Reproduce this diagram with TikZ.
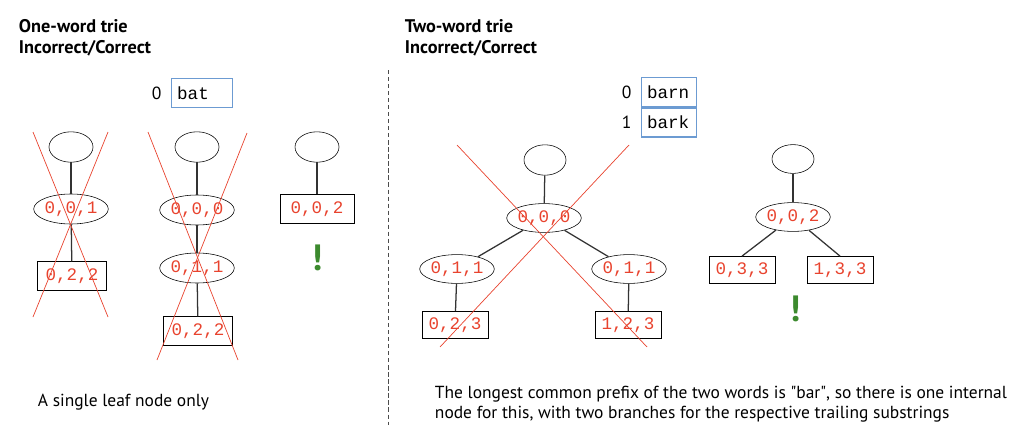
\documentclass[tikz,border=0pt]{standalone}
\usepackage{fontspec}
\setmainfont{PT Sans}
\setmonofont{Liberation Mono}
\usetikzlibrary{shapes.geometric}
\definecolor{lblred}{HTML}{E8432E}
\definecolor{boxblue}{HTML}{6C9BD2}
\definecolor{okgreen}{HTML}{3C8A2E}

\def\W{1024}
\def\H{434}

\begin{document}
\begin{tikzpicture}[x=0.025cm,y=-0.025cm]
    \tikzset{
      root/.style={draw,ellipse,minimum width=1.1cm,minimum height=0.76cm,inner sep=0pt},
      inner/.style={draw,ellipse,minimum width=1.82cm,minimum height=0.75cm,inner sep=0pt,
        text=lblred,font=\ttfamily\fontsize{12.5}{14}\selectfont},
      leaf/.style={draw,rectangle,minimum width=1.72cm,minimum height=0.72cm,inner sep=0pt,
        text=lblred,font=\ttfamily\fontsize{12.5}{14}\selectfont},
      word/.style={draw=boxblue,line width=1.2pt,rectangle,minimum height=0.72cm,inner ysep=0pt,
        inner xsep=4pt,align=left,font=\ttfamily\fontsize{12.5}{14}\selectfont},
      idx/.style={font=\fontsize{12.5}{14}\selectfont},
      cross/.style={draw=lblred,line width=0.5pt},
      bang/.style={text=okgreen,font=\bfseries\fontsize{26}{28}\selectfont},
      title/.style={anchor=base west,font=\bfseries\fontsize{13}{15}\selectfont},
      note/.style={anchor=base west,align=left,font=\fontsize{12.4}{14}\selectfont}
    }
    \useasboundingbox (0,0) rectangle (\W,\H);

    \node[title] (t1) at (14,32) {One-word trie};
    \node[title] (t1b) at (14,53) {Incorrect/Correct};
    \node[title] (t2) at (400,32) {Two-word trie};
    \node[title] (t2b) at (400,53) {Incorrect/Correct};

    \node[word,text width=1.24cm] (bat) at (202,93) {bat};
    \node[idx,left=3pt] at (bat.west) {0};

    \node[root] (r1) at (71,147) {};
    \node[inner] (n1) at (71,209) {0,0,1};
    \node[leaf] (l1) at (72,276) {0,2,2};
    \path[draw,black!80,line width=0.9pt] (r1) edge (n1) (n1) edge (l1);
    \draw[cross] (33,132) -- (108,317);
    \draw[cross] (108,132) -- (33,317);

    \node[root] (r2) at (197,147) {};
    \node[inner] (n2) at (197,210) {0,0,0};
    \node[inner] (n3) at (197,268) {0,1,1};
    \node[leaf] (l2) at (198,331) {0,2,2};
    \path[draw,black!80,line width=0.9pt] (r2) edge (n2) (n2) edge (n3) (n3) edge (l2);
    \draw[cross] (148,132) -- (238,360);
    \draw[cross] (247,133) -- (157,360);

    \node[root] (r3) at (317,147) {};
    \node[leaf,minimum width=1.85cm] (l3) at (317,209) {0,0,2};
    \path[draw,black!80,line width=0.9pt] (r3) edge (l3);
    \node[bang] (b1) at (317,258) {!};

    \draw[black!70,dashed,dash pattern=on 3pt off 2pt] (388,70) -- (388,425);

    \node[word,text width=1.1cm] (barn) at (669,92) {barn};
    \node[word,text width=1.1cm,anchor=north] (bark) at (barn.south) {bark};
    \node[idx,left=3pt] at (barn.west) {0};
    \node[idx,left=3pt] at (bark.west) {1};

    \node[root,minimum width=1.05cm] (r4) at (545,160) {};
    \node[inner,minimum width=1.72cm,minimum height=0.72cm] (n4) at (544,218) {0,0,0};
    \node[inner,minimum width=1.72cm,minimum height=0.72cm] (n5) at (457,269) {0,1,1};
    \node[inner,minimum width=1.72cm,minimum height=0.72cm] (n6) at (629,269) {0,1,1};
    \node[leaf,minimum width=1.65cm,minimum height=0.68cm] (l4) at (455,325) {0,2,3};
    \node[leaf,minimum width=1.65cm,minimum height=0.68cm] (l5) at (628,325) {1,2,3};
    \path[draw,black!80,line width=0.9pt] (r4) edge (n4) (n4) edge (n5) edge (n6)
      (n5) edge (l4) (n6) edge (l5);
    \draw[cross] (457,145) -- (647,347);
    \draw[cross] (629,145) -- (440,347);

    \node[root,minimum width=1.05cm,minimum height=0.72cm] (r5) at (793,159) {};
    \node[inner,minimum width=1.72cm,minimum height=0.72cm] (n7) at (793,217) {0,0,2};
    \node[leaf,minimum width=1.65cm,minimum height=0.68cm] (l6) at (742,270) {0,3,3};
    \node[leaf,minimum width=1.65cm,minimum height=0.68cm] (l7) at (840,270) {1,3,3};
    \path[draw,black!80,line width=0.9pt] (r5) edge (n7) (n7) edge (l6.north) edge (l7.north);
    \node[bang] (b2) at (795,309) {!};

    \node[note] (c1) at (33,406) {A single leaf node only};
    \node[note] (c2) at (430,418) {The longest common prefix of the two words is \textquotedbl bar\textquotedbl, so there is one internal\\
      node for this, with two branches for the respective trailing substrings};
\end{tikzpicture}
\end{document}
